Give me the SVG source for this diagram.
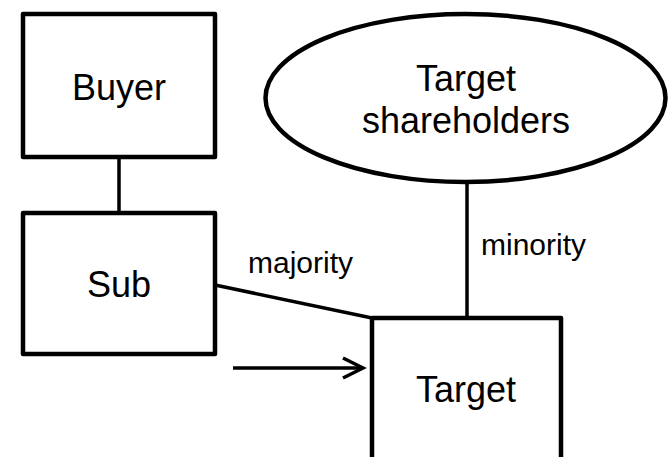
<svg xmlns="http://www.w3.org/2000/svg" width="672" height="457" viewBox="0 0 672 457">
  <style>
    .box { fill: #ffffff; stroke: #000000; stroke-width: 4.5; stroke-linejoin: round; }
    .link { stroke: #000000; stroke-width: 3.5; fill: none; }
    .name { font-family: "Liberation Sans", Arial, sans-serif; font-size: 36px; fill: #000000; text-anchor: middle; }
    .tag { font-family: "Liberation Sans", Arial, sans-serif; font-size: 30px; fill: #000000; }
  </style>
  <defs>
    <marker id="open-arrow" markerWidth="12" markerHeight="12" refX="10" refY="6" orient="auto" markerUnits="userSpaceOnUse" overflow="visible">
      <path d="M -10 -4 L 10 6 L -10 16" fill="none" stroke="#000000" stroke-width="3.5" stroke-linejoin="miter"/>
    </marker>
  </defs>

  <rect width="672" height="457" fill="#ffffff"/>

  <!-- connectors -->
  <g id="connectors">
    <line class="link" x1="119" y1="157" x2="119" y2="213"/>
    <line class="link" x1="215" y1="285" x2="372" y2="318"/>
    <line class="link" x1="467" y1="182" x2="467" y2="318"/>
    <line class="link" x1="233" y1="368" x2="362" y2="368"/>
    <path class="link" d="M 343 358 L 363 368 L 343 378"/>
    <text class="tag" x="248" y="273">majority</text>
    <text class="tag" x="481" y="255">minority</text>
  </g>

  <g id="buyer">
    <rect class="box" x="23" y="14" width="192" height="143"/>
    <text class="name" x="119" y="100">Buyer</text>
  </g>

  <g id="sub">
    <rect class="box" x="23" y="213" width="192" height="141"/>
    <text class="name" x="119" y="297">Sub</text>
  </g>

  <g id="target-shareholders">
    <ellipse class="box" cx="465.5" cy="98" rx="200" ry="84"/>
    <text class="name" x="466" y="91">Target</text>
    <text class="name" x="466" y="133">shareholders</text>
  </g>

  <g id="target">
    <rect class="box" x="372" y="318" width="189" height="160"/>
    <text class="name" x="466" y="402">Target</text>
  </g>
</svg>
